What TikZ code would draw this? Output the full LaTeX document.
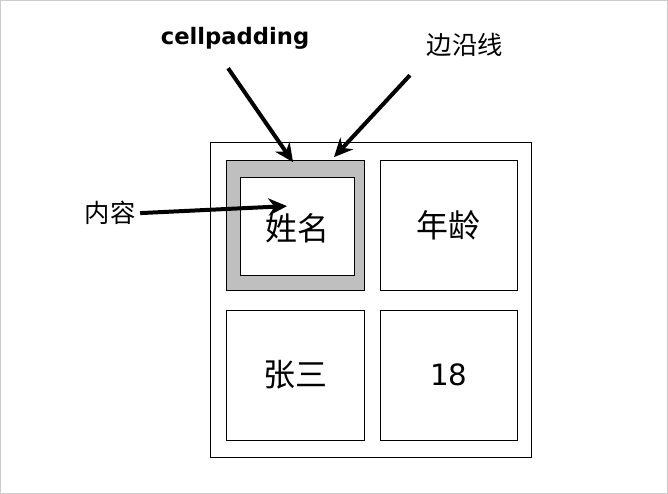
\documentclass[tikz,border=0pt]{standalone}
\usepackage{fontspec}
\newfontfamily\cjk{Noto Sans CJK SC}
\setsansfont{DejaVu Sans}
\usetikzlibrary{arrows.meta}
\tikzset{
  cell/.style={draw=black, fill=white, line width=0.6pt},
  callout/.style={-{Stealth[length=14pt,width=13pt]}, line width=3pt},
  celltext/.style={font=\cjk\fontsize{24}{24}\selectfont}
}
\begin{document}
\begin{tikzpicture}[x=0.75pt, y=-0.75pt]
%% page with a faint frame
  \draw[gray!40, fill=white] (0,0) rectangle (668,493);
%% the table and its four cells
  \draw[cell] (210,142) rectangle (532,457);
  \draw[cell, fill=gray!50] (226,160) rectangle (364,290);
  \node[cell, minimum width=85.5pt, minimum height=73.5pt] (content) at (297,226) {};
  \node[celltext] (name) at (297,228) {姓名};
  \node[cell, minimum width=103.5pt, minimum height=97.5pt, celltext] (age) at (449,225) {年龄};
  \node[cell, minimum width=103.5pt, minimum height=97.5pt, celltext] (who) at (295,375) {张三};
  \node[cell, minimum width=103.5pt, minimum height=97.5pt, font=\sffamily\fontsize{22}{22}\selectfont] (num) at (449,375) {18};
%% labels and arrows
  \node[font=\sffamily\bfseries\fontsize{17}{17}\selectfont] (pad) at (235,38) {cellpadding};
  \node[font=\cjk\fontsize{19}{19}\selectfont] (edge) at (465,45) {边沿线};
  \node[font=\cjk\fontsize{19}{19}\selectfont] (inner) at (110,213) {内容};
  \coordinate (padtip) at (293,162);
  \coordinate (edgetip) at (334,157);
  \coordinate (innertip) at (287,206);
  \draw[callout] (228,68) -- (padtip);
  \draw[callout] (410,75) -- (edgetip);
  \draw[callout] (inner.east) -- (innertip);
\end{tikzpicture}
\end{document}
